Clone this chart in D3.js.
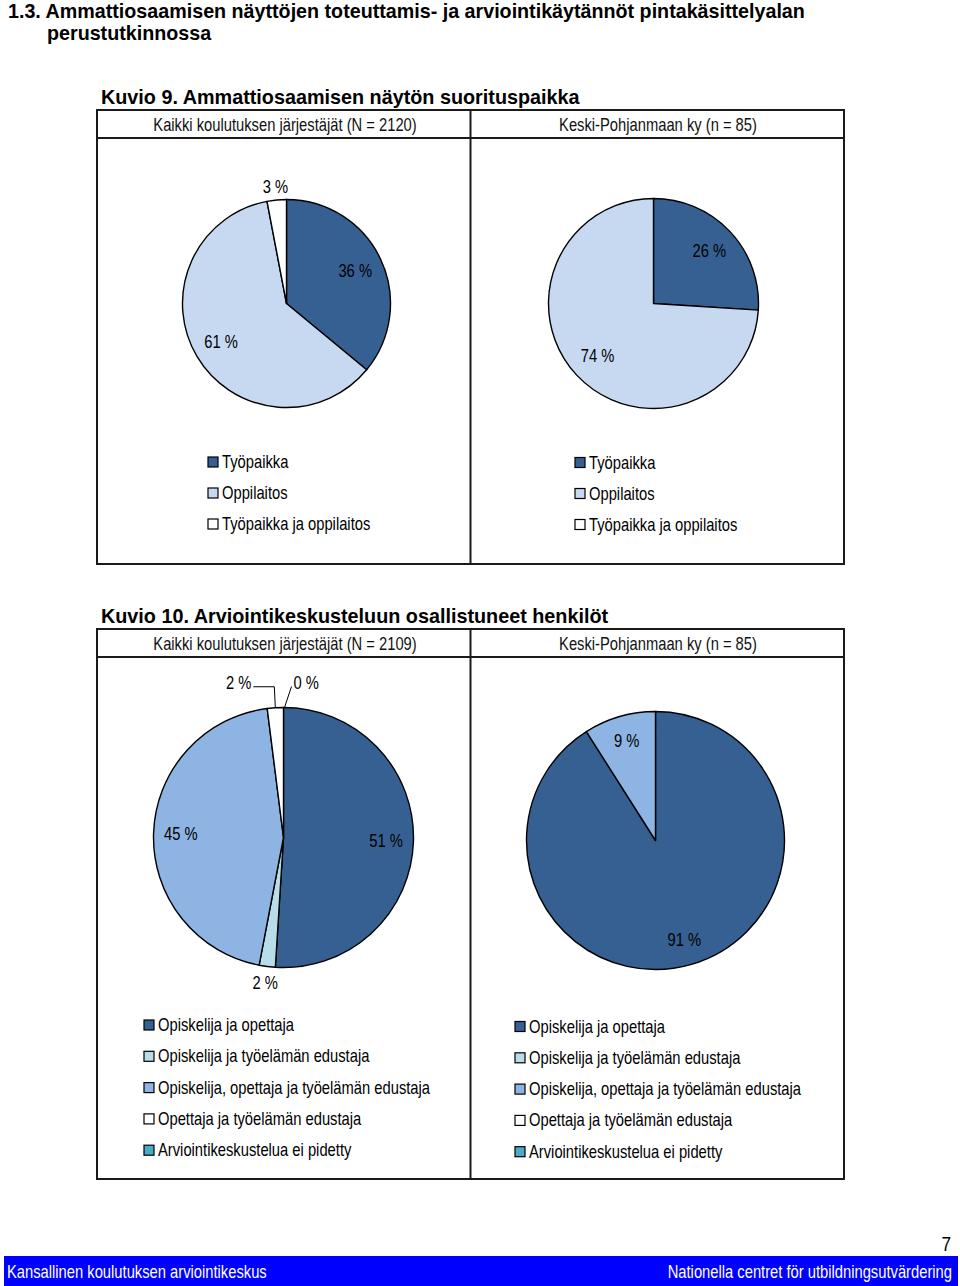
<!DOCTYPE html>
<html><head><meta charset="utf-8">
<script src="https://cdn.jsdelivr.net/npm/d3@7"></script>
<style>
body{margin:0;background:#fff;}
svg{display:block;}
.narrow{font-family:"Liberation Sans",Arial,sans-serif;}
.bold{font-family:"Liberation Sans",Arial,sans-serif;font-weight:bold;}
</style></head>
<body>
<svg id="c" width="960" height="1286"></svg>
<script>
// ---- data ----
const pageTitle1 = "1.3. Ammattiosaamisen näyttöjen toteuttamis- ja arviointikäytännöt pintakäsittelyalan";
const pageTitle2 = "perustutkinnossa";
const fig9Title = "Kuvio 9. Ammattiosaamisen näytön suorituspaikka";
const fig10Title = "Kuvio 10. Arviointikeskusteluun osallistuneet henkilöt";
const fig9Groups = ["Kaikki koulutuksen järjestäjät (N = 2120)", "Keski-Pohjanmaan ky (n = 85)"];
const fig10Groups = ["Kaikki koulutuksen järjestäjät (N = 2109)", "Keski-Pohjanmaan ky (n = 85)"];
const fig9Categories = ["Työpaikka", "Oppilaitos", "Työpaikka ja oppilaitos"];
const fig9All = [36, 61, 3];
const fig9KP = [26, 74, 0];
const fig10Categories = ["Opiskelija ja opettaja", "Opiskelija ja työelämän edustaja",
  "Opiskelija, opettaja ja työelämän edustaja", "Opettaja ja työelämän edustaja",
  "Arviointikeskustelua ei pidetty"];
const fig10All = [51, 2, 45, 2, 0];
const fig10KP = [91, 0, 9, 0, 0];
const footerLeft = "Kansallinen koulutuksen arviointikeskus";
const footerRight = "Nationella centret för utbildningsutvärdering";
const pageNumber = "7";

const fig9Colors = ["#376092", "#C6D9F1", "#FFFFFF"];
const fig10Colors = ["#376092", "#B7DEE8", "#8EB4E3", "#FFFFFF", "#4BACC6"];

const svg = d3.select("#c");
const NARROW = 0.82;

// narrow (Arial Narrow-like) text helper
function ntext(parent, x, y, str, size, anchor, fill){
  return parent.append("g").attr("transform",`translate(${x},${y}) scale(${NARROW},1)`)
    .append("text").attr("class","narrow").attr("font-size",size)
    .attr("text-anchor",anchor||"start").attr("fill",fill||"#000").text(str);
}

// page title
svg.append("text").attr("class","bold").attr("x",8).attr("y",18).attr("font-size",19.7).text(pageTitle1);
svg.append("text").attr("class","bold").attr("x",47).attr("y",40).attr("font-size",19.7).text(pageTitle2);

function frame(top, bottom, title, groups){
  svg.append("text").attr("class","bold").attr("x",101).attr("y",top-6).attr("font-size",19.8).text(title);
  const g = svg.append("g").attr("stroke","#1a1a1a").attr("stroke-width",2).attr("fill","none");
  g.append("rect").attr("x",97).attr("y",top).attr("width",747).attr("height",bottom-top);
  g.append("line").attr("x1",97).attr("x2",844).attr("y1",top+28).attr("y2",top+28);
  g.append("line").attr("x1",470.5).attr("x2",470.5).attr("y1",top).attr("y2",bottom+1);
  [285, 658].forEach((cx,i)=>{
    ntext(svg, cx, top+21, groups[i], 18, "middle", "#111");
  });
}

function pie(cx, cy, r, values, colors, opts){
  const data = values.map((v,i)=>({v, i}));
  const arcs = d3.pie().value(d=>d.v).sort(null)(data);
  const arcGen = d3.arc().innerRadius(0).outerRadius(r);
  const g = svg.append("g").attr("transform",`translate(${cx},${cy})`);
  g.selectAll("path").data(arcs.filter(a=>a.data.v>0)).join("path")
    .attr("d",arcGen).attr("fill",d=>colors[d.data.i])
    .attr("stroke","#000").attr("stroke-width",1.4).attr("stroke-linejoin","round");
  arcs.forEach(a=>{
    if(a.data.v===0 && !(opts.zeroLabels)) return;
    const mid = (a.startAngle + a.endAngle)/2;
    const custom = opts.custom && opts.custom[a.data.i];
    let f = a.data.v < 5 ? 1.13 : (opts.inside || 0.75);
    if (custom) {
      const ax = Math.sin(mid)*r, ay = -Math.cos(mid)*r;
      const tx = ax + custom.dx, ty = ay + custom.dy;
      g.append("path").attr("fill","none").attr("stroke","#000").attr("stroke-width",1)
        .attr("d", custom.elbow
          ? `M${ax},${ay}L${ax-1},${ty+4}L${tx+custom.lx},${ty+4}`
          : `M${ax+1},${ay}L${tx+custom.lx},${ty+4}`);
      ntext(g, tx, ty+6, a.data.v + " %", 18, custom.anchor);
      return;
    }
    const x = Math.sin(mid)*r*f, y = -Math.cos(mid)*r*f;
    ntext(g, x, y+6, a.data.v + " %", 18, "middle");
  });
}

function legend(x, y0, step, cats, colors){
  cats.forEach((c,i)=>{
    const y = y0 + i*step;
    svg.append("rect").attr("x",x).attr("y",y-5).attr("width",10).attr("height",10)
      .attr("fill",colors[i]).attr("stroke","#000").attr("stroke-width",1.2);
    ntext(svg, x+14, y+6, c, 18, "start");
  });
}

// Figure 9
frame(110, 564, fig9Title, fig9Groups);
pie(286.5, 303.5, 104, fig9All, fig9Colors, {inside:0.73});
pie(653.5, 303.5, 105, fig9KP, fig9Colors, {inside:0.73});
legend(208, 462, 31, fig9Categories, fig9Colors);
legend(575, 462.5, 31, fig9Categories, fig9Colors);

// Figure 10
frame(629, 1179, fig10Title, fig10Groups);
pie(283.5, 837.5, 130, fig10All, fig10Colors, {inside:0.79, zeroLabels:true,
  custom:{3:{dx:-24,dy:-25,anchor:"end",lx:2,elbow:true}, 4:{dx:10,dy:-25,anchor:"start",lx:-2,elbow:false}}});
pie(655.5, 840.5, 129, fig10KP, fig10Colors, {inside:0.8});
legend(144, 1025, 31.3, fig10Categories, fig10Colors);
legend(515, 1026.5, 31.3, fig10Categories, fig10Colors);

// footer
ntext(svg, 951, 1251, pageNumber, 21, "end");
svg.append("rect").attr("x",4).attr("y",1256).attr("width",954).attr("height",30).attr("fill","#0000FF");
ntext(svg, 7, 1278, footerLeft, 18, "start", "#fff");
ntext(svg, 952, 1278, footerRight, 18, "end", "#fff");
</script>
</body></html>
